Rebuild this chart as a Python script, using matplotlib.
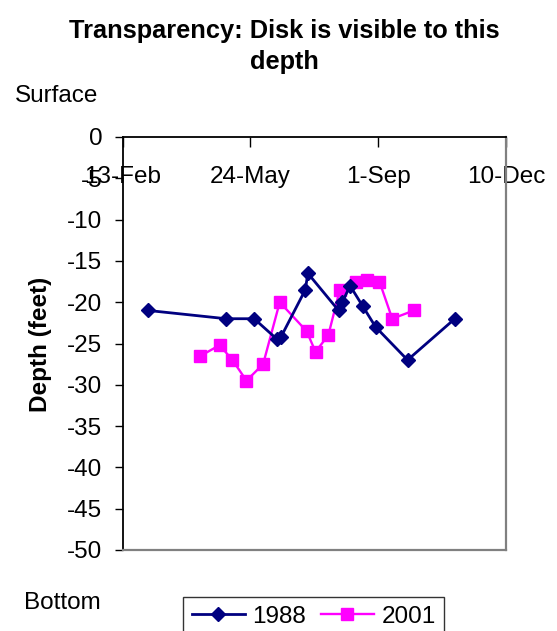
import numpy as np
import pandas as pd
import matplotlib
matplotlib.use("Agg")
import matplotlib.pyplot as plt
import matplotlib.dates as mdates

plt.rcParams['font.family'] = ['Liberation Sans', 'DejaVu Sans']

# readings (day-month, depth in feet)
dates_1988 = ["5-Mar", "5-May", "27-May", "14-Jun", "17-Jun", "6-Jul", "8-Jul",
              "1-Aug", "4-Aug", "10-Aug", "20-Aug", "30-Aug", "24-Sep", "31-Oct"]
depth_1988 = [-21, -22, -22, -24.5, -24.2, -18.5, -16.5,
              -21, -20, -18, -20.5, -23, -27, -22]

dates_2001 = ["15-Apr", "30-Apr", "10-May", "21-May", "3-Jun", "16-Jun", "7-Jul",
              "14-Jul", "24-Jul", "2-Aug", "15-Aug", "23-Aug", "2-Sep", "12-Sep", "29-Sep"]
depth_2001 = [-26.5, -25.2, -27, -29.5, -27.5, -20, -23.5,
              -26, -24, -18.5, -17.5, -17.3, -17.5, -22, -21]

tick_dates = ["13-Feb", "24-May", "1-Sep", "10-Dec"]
y_ticks = list(range(0, -55, -5))

x88 = pd.to_datetime(dates_1988, format="%d-%b")
x01 = pd.to_datetime(dates_2001, format="%d-%b")
xt = pd.to_datetime(tick_dates, format="%d-%b")

W, H = 557, 631
fig = plt.figure(figsize=(W / 100, H / 100), dpi=100)
ax = fig.add_axes([122.5 / W, 1 - 550 / H, (506 - 122.5) / W, (550 - 137) / H])

fs = 17.5
ax.plot(x88, depth_1988, color="#000080", lw=2.0, marker="D", ms=7,
        mec="#000080", mfc="#000080", label="1988", zorder=3)
ax.plot(x01, depth_2001, color="#FF00FF", lw=1.7, marker="s", ms=9,
        mec="#FF00FF", mfc="#FF00FF", label="2001", zorder=2)

ax.set_xlim(xt[0], xt[-1])
ax.set_ylim(-50, 0)
ax.set_xticks(xt)
ax.xaxis.set_major_formatter(mdates.DateFormatter("%-d-%b"))
ax.set_yticks(y_ticks)
ax.set_yticklabels([str(v) for v in y_ticks])

ax.tick_params(axis="x", top=True, bottom=False, labeltop=True, labelbottom=False,
               direction="in", length=7, width=1, pad=-37, labelsize=fs)
ax.tick_params(axis="y", direction="out", length=5.5, width=1, pad=9, labelsize=fs)

for s in ["left", "top"]:
    ax.spines[s].set_color("black")
    ax.spines[s].set_linewidth(1.3)
for s in ["right", "bottom"]:
    ax.spines[s].set_color("#808080")
    ax.spines[s].set_linewidth(1.6)

fig.text(284 / W, 1 - 38.4 / H, "Transparency: Disk is visible to this",
         ha="center", va="baseline", fontsize=18.3, fontweight="bold")
fig.text(284 / W, 1 - 69.4 / H, "depth",
         ha="center", va="baseline", fontsize=18.3, fontweight="bold")
fig.text(15 / W, 1 - 102 / H, "Surface", ha="left", va="baseline", fontsize=fs)
fig.text(24 / W, 1 - 609 / H, "Bottom", ha="left", va="baseline", fontsize=fs)
fig.text(40 / W, 1 - 344 / H, "Depth (feet)", rotation=90, ha="center",
         va="center", fontsize=fs, fontweight="bold")

leg = fig.legend(loc="upper left", bbox_to_anchor=(183 / W, 1 - 597 / H),
                 ncol=2, fontsize=fs, frameon=True, fancybox=False,
                 borderaxespad=0, borderpad=0.35, handlelength=2.2,
                 handletextpad=0.3, columnspacing=0.6)
leg.get_frame().set_edgecolor("black")
leg.get_frame().set_linewidth(1.0)

fig.savefig("out.png", dpi=100)
